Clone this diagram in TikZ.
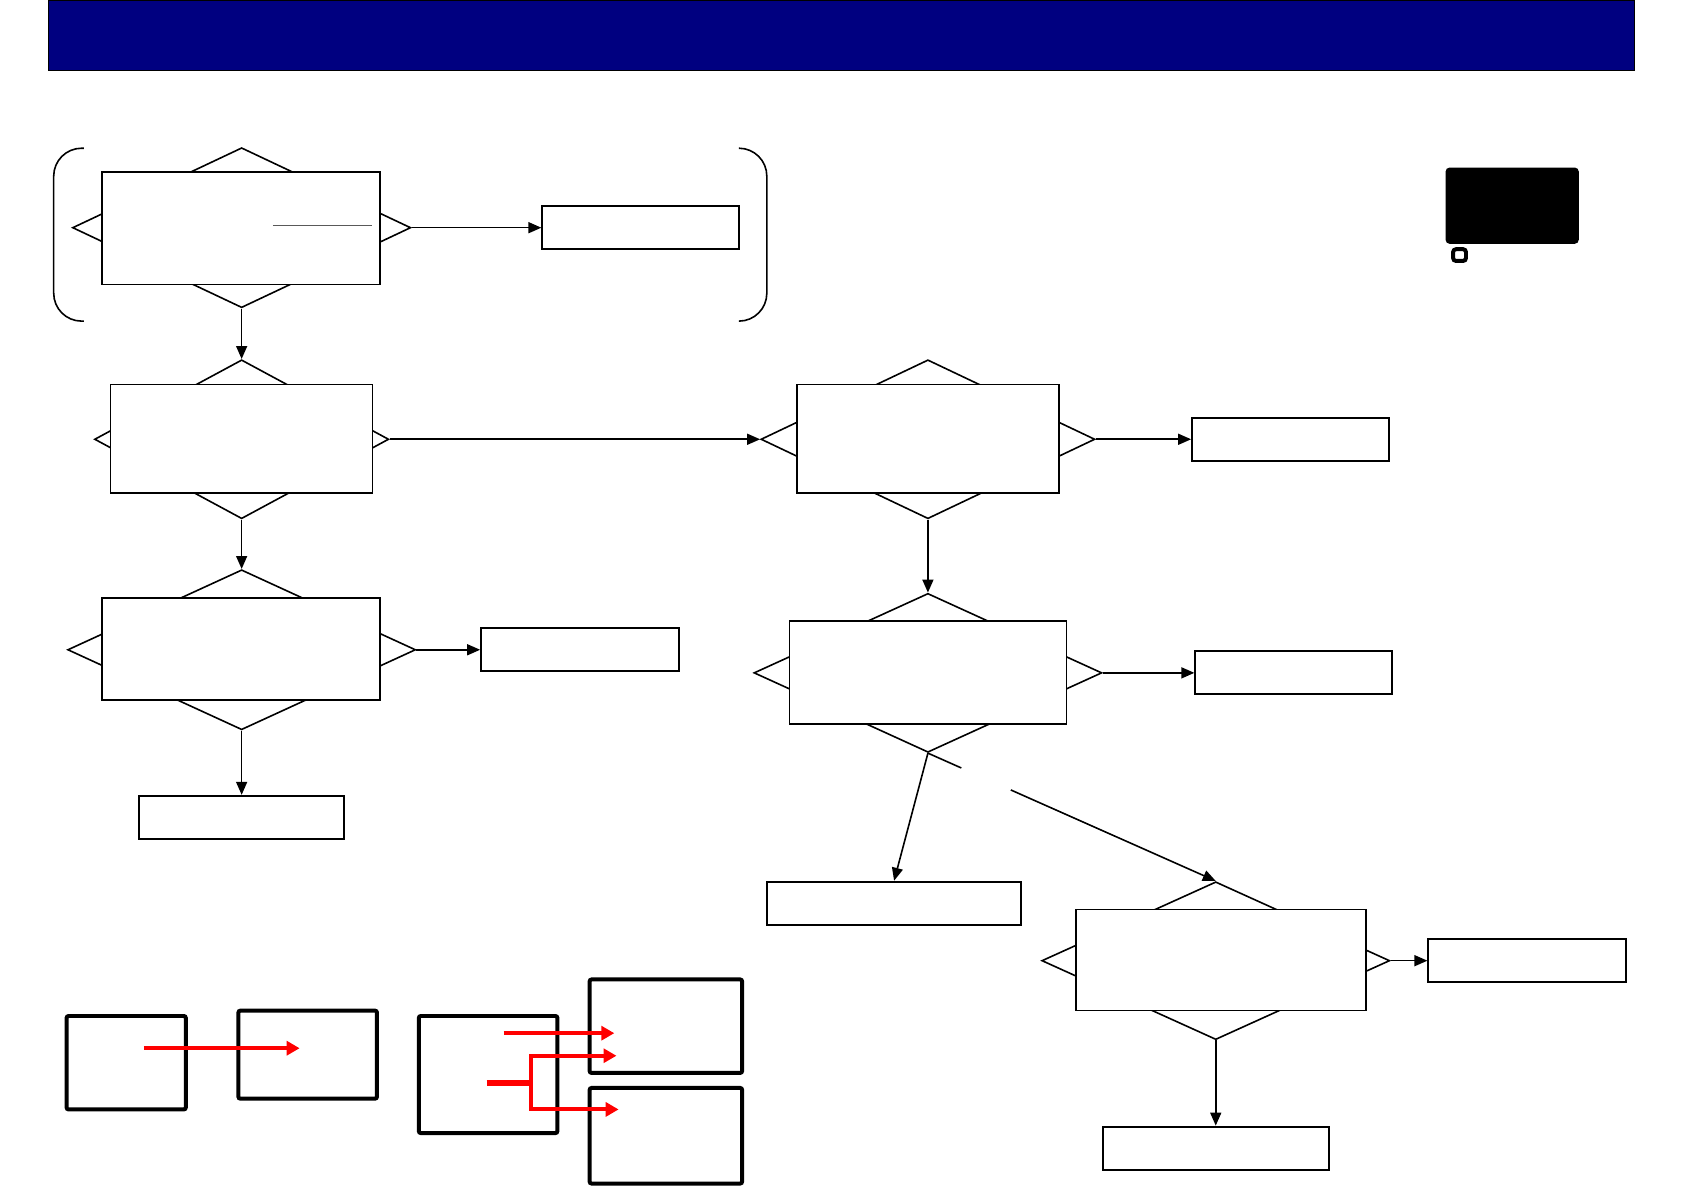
\documentclass[tikz,border=0pt]{standalone}
\usepackage{tikz}
\usetikzlibrary{arrows.meta, positioning, calc, shapes.geometric}

\newcommand{\unitpx}{0.018941cm}

\begin{document}
\begin{tikzpicture}[
  x=0.018941cm, y=-0.018936cm,
  dec/.style={diamond, draw, inner sep=0pt, line width=.8pt},
  card/.style={rectangle, draw, fill=white, inner sep=0pt, line width=.8pt},
  outbox/.style={rectangle, draw, inner sep=0pt, line width=1pt,
                 minimum height=40*\unitpx},
  legbox/.style={rectangle, draw, inner sep=0pt, line width=2pt, rounded corners=1pt},
  arr/.style={-{Triangle[length=6.5pt, width=5.5pt]}, line width=.8pt},
  redarr/.style={-{Triangle[length=6.5pt, width=7pt]}, red, line width=2pt},
]
  \useasboundingbox (0,0) rectangle (1568,1109);

  % title bar
  \node[rectangle, draw=black, fill={rgb,255:red,0;green,0;blue,128}, inner sep=0pt,
        minimum width=1477*\unitpx, minimum height=66*\unitpx] (title) at (783.5,33) {};

  % bracket round the first check
  \draw[line width=.8pt, rounded corners=14pt] (78,138) -- (50,138) -- (50,299) -- (78,299);
  \draw[line width=.8pt, rounded corners=14pt] (688,138) -- (714,138) -- (714,299) -- (688,299);

  % first check
  \node[dec, minimum width=315*\unitpx, minimum height=149*\unitpx] (d1) at (225,212) {};
  \node[card, minimum width=259*\unitpx, minimum height=105*\unitpx] (c1) at (224.5,212.5) {};
  \draw[gray!70!black, line width=.8pt] (254,210) -- (346,210);
  \node[outbox, minimum width=183*\unitpx] (b1) at (596.5,212) {};
  \draw[arr] (d1.east) -- (b1.west);

  % second check
  \node[dec, minimum width=274*\unitpx, minimum height=148*\unitpx] (d2) at (225,409) {};
  \node[card, minimum width=244*\unitpx, minimum height=101*\unitpx] (c2) at (225,408.5) {};
  \draw[arr] (d1.south) -- (d2.north);

  % third check, left column
  \node[dec, minimum width=324*\unitpx, minimum height=149*\unitpx] (d6) at (225,605) {};
  \node[card, minimum width=259*\unitpx, minimum height=95*\unitpx] (c6) at (224.5,604.5) {};
  \node[outbox, minimum width=184*\unitpx] (b7) at (540,605) {};
  \node[outbox, minimum width=191*\unitpx] (b8) at (225,761) {};
  \draw[arr] (d2.south) -- (d6.north);
  \draw[arr] (d6.east) -- (b7.west);
  \draw[arr] (d6.south) -- (b8.north);

  % right column
  \node[dec, minimum width=311*\unitpx, minimum height=148*\unitpx] (d3) at (864,409) {};
  \node[card, minimum width=244*\unitpx, minimum height=101*\unitpx] (c3) at (864,408.5) {};
  \node[outbox, minimum width=183*\unitpx] (b2) at (1201.5,409) {};
  \draw[arr] (d2.east) -- (d3.west);
  \draw[arr] (d3.east) -- (b2.west);

  \node[dec, minimum width=324*\unitpx, minimum height=148*\unitpx] (d4) at (864,626.5) {};
  \node[card, minimum width=258*\unitpx, minimum height=96*\unitpx] (c4) at (864,626) {};
  \node[outbox, minimum width=183*\unitpx] (b3) at (1204.5,626.5) {};
  \node[outbox, minimum width=237*\unitpx] (b4) at (832.5,841) {};
  \draw[arr] (d3.south) -- (d4.north);
  \draw[arr] (d4.east) -- (b3.west);
  \draw[arr] (d4.south) -- (b4.north);

  \node[dec, minimum width=324*\unitpx, minimum height=147*\unitpx] (d5) at (1132,894.5) {};
  \node[card, minimum width=270*\unitpx, minimum height=94*\unitpx] (c5) at (1137,894) {};
  \node[outbox, minimum width=184*\unitpx] (b5) at (1422,894.5) {};
  \node[outbox, minimum width=210*\unitpx] (b6) at (1132,1069) {};
  \draw[line width=.8pt] (d4.south) -- ($(d4.south)!.116!(d5.north)$);
  \draw[arr] ($(d4.south)!.288!(d5.north)$) -- (d5.north);
  \draw[arr] (d5.east) -- (b5.west);
  \draw[arr] (d5.south) -- (b6.north);

  % key, top right
  \node[rectangle, fill=black, rounded corners=2pt, inner sep=0pt,
        minimum width=124*\unitpx, minimum height=71*\unitpx] (key) at (1408,191.5) {};
  \node[rectangle, draw, fill=white, line width=2pt, rounded corners=1.5pt, inner sep=0pt,
        minimum width=12*\unitpx, minimum height=11*\unitpx] (keymark) at (1359,237.5) {};

  % legend, bottom left
  \node[legbox, minimum width=111*\unitpx, minimum height=87*\unitpx] (l1) at (117.5,989.5) {};
  \node[legbox, minimum width=129*\unitpx, minimum height=82*\unitpx] (l2) at (286.5,982) {};
  \node[legbox, minimum width=129*\unitpx, minimum height=109*\unitpx] (l3) at (454.5,1000.5) {};
  \node[legbox, minimum width=142*\unitpx, minimum height=87*\unitpx] (l4) at (620,955.5) {};
  \node[legbox, minimum width=142*\unitpx, minimum height=89*\unitpx] (l5) at (620,1057.5) {};

  \coordinate (s1) at (134,976);
  \coordinate (t1) at (279,976);
  \draw[redarr] (s1) -- (t1);

  \coordinate (s2) at (469,962);
  \coordinate (t2) at (572,962);
  \coordinate (s3) at (453,1008);
  \coordinate (fork) at (494,1008);
  \coordinate (t3) at (574,983);
  \coordinate (t4) at (576,1033);
  \draw[redarr] (s2) -- (t2);
  \draw[red, line width=3pt] (s3) -- (fork);
  \draw[redarr] (fork) |- (t3);
  \draw[redarr] (fork) |- (t4);
\end{tikzpicture}
\end{document}
